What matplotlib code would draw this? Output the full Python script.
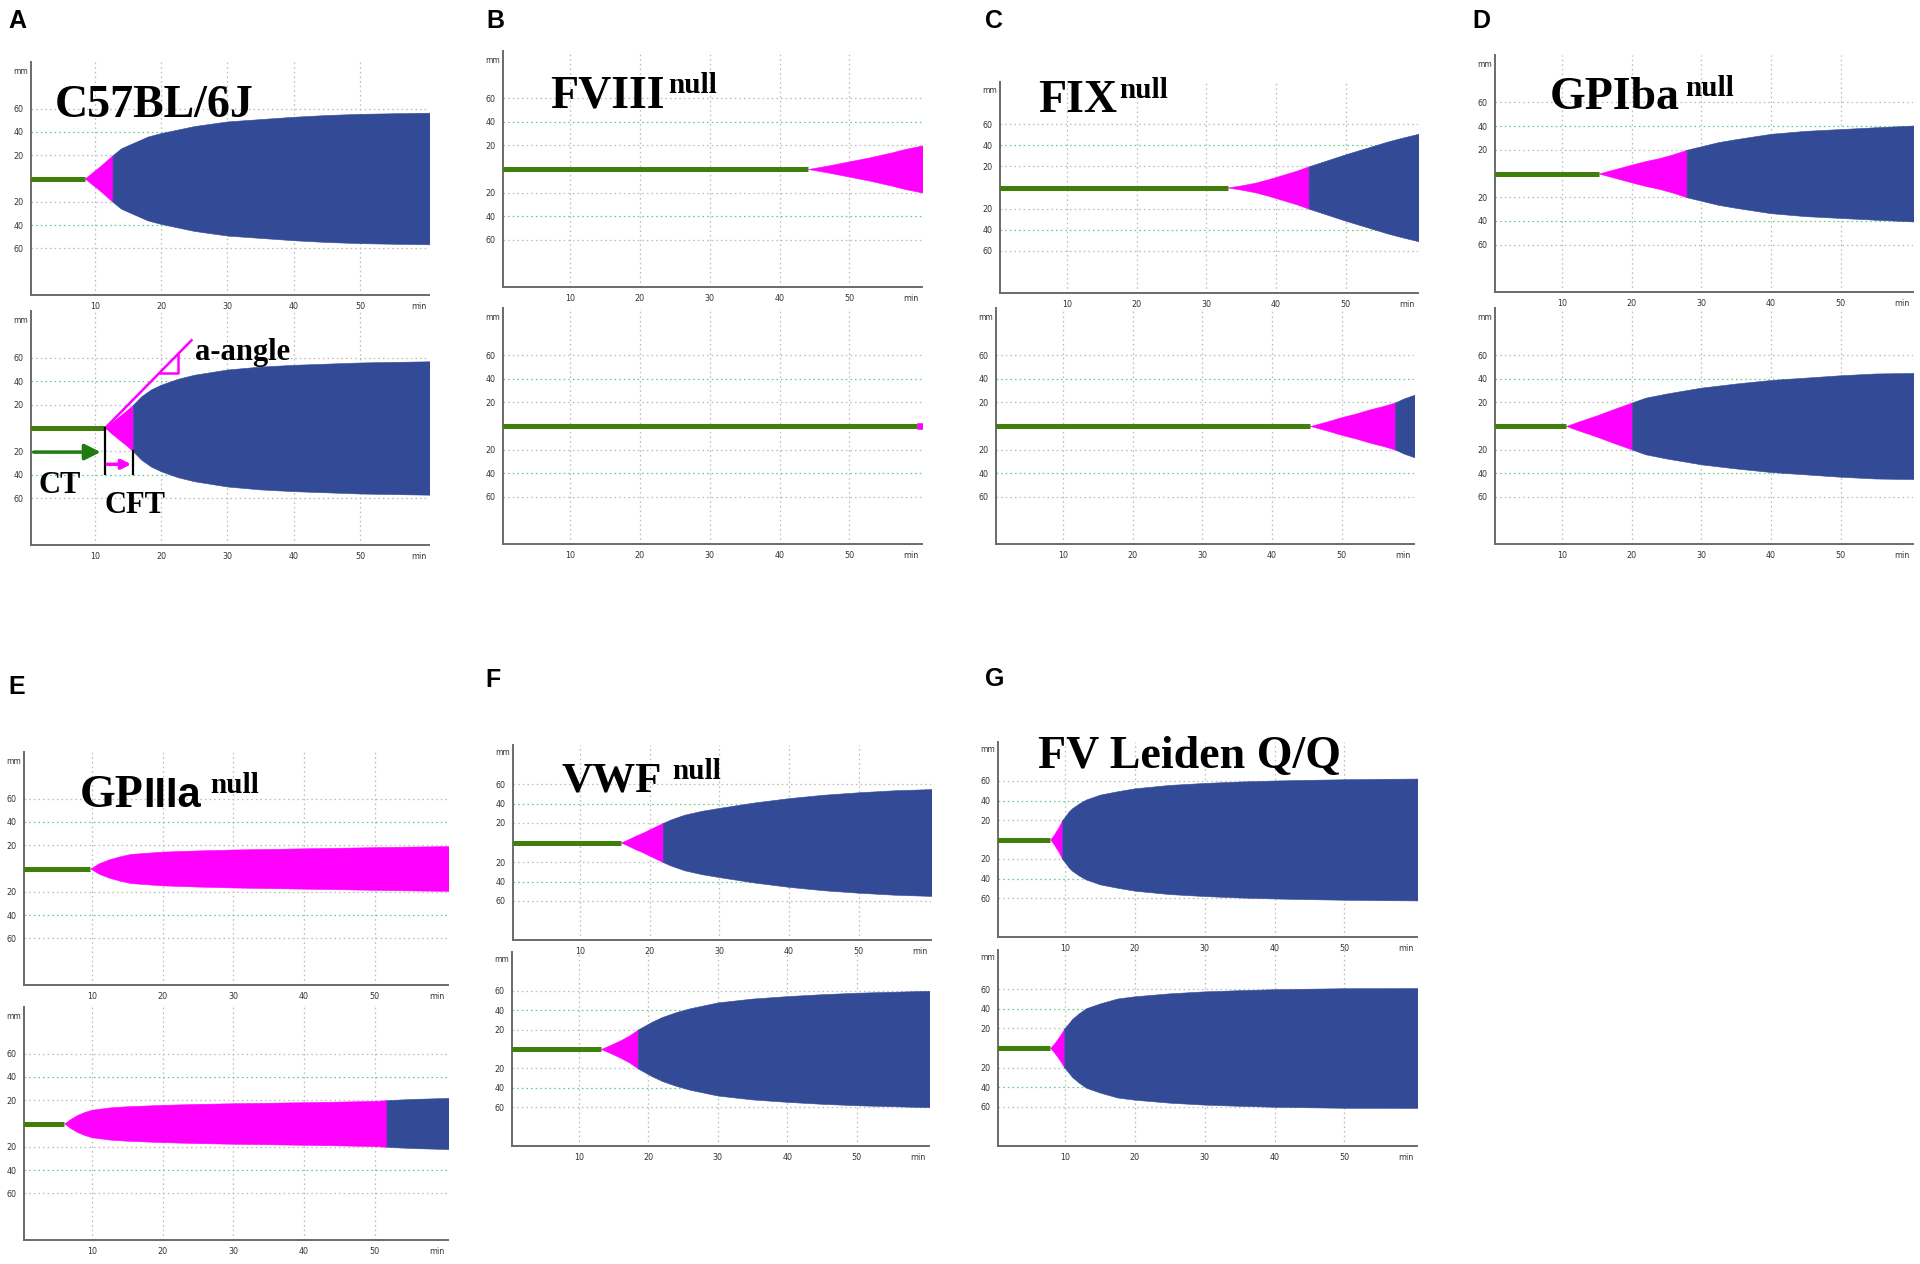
import numpy as np
import matplotlib
matplotlib.use('Agg')
import matplotlib.pyplot as plt

W, H = 1920, 1264
GREEN = '#3f7f0c'
MAGENTA = '#ff00ff'
BLUE = '#334b97'
GRIDC = '#bdbdbd'
GGRIDC = '#5ccf85'
SERIF = 'Liberation Serif'
SANS = 'Liberation Sans'

# ---------------- data (time in min, amplitude in mm) ----------------
A1_ct = 8.5
A1_mag_t = [8.5, 9.6, 10.7, 11.7, 12.7]
A1_mag_a = [0, 5, 10, 15, 20]
A1_blue_t = [12.7, 14, 16, 18, 20, 25, 30, 35, 40, 45, 50, 55, 60.5]
A1_blue_a = [20, 26, 31, 36, 39, 45, 49, 51, 53, 54.5, 55.5, 56, 56.5]

A2_ct = 11.6
A2_mag_t = [11.6, 12.6, 13.7, 14.8, 15.8]
A2_mag_a = [0, 5, 10, 15, 20]
A2_blue_t = [15.8, 17, 18.5, 20, 22.5, 25, 30, 35, 40, 45, 50, 55, 60.5]
A2_blue_a = [20, 27, 33, 37, 42, 45.5, 50, 52.5, 54, 55, 56, 56.5, 57]

B1_ct = 44.1
B1_mag_t = [44.1, 47, 50, 53, 56, 58, 60.5]
B1_mag_a = [0, 3, 6.5, 10, 14, 17, 20]
B1_blue_t = []
B1_blue_a = []

B2_ct = 59.7
B2_mag_t = [59.7, 60.5]
B2_mag_a = [2.5, 2.5]
B2_blue_t = []
B2_blue_a = []

C1_ct = 33.1
C1_mag_t = [33.1, 35, 37, 39, 41, 43, 44.7]
C1_mag_a = [0, 2, 4.5, 8, 12, 16, 20]
C1_blue_t = [44.7, 47, 50, 53, 56, 58, 60.5]
C1_blue_a = [20, 25, 31.5, 37.5, 43.5, 47, 51]

C2_ct = 45.5
C2_mag_t = [45.5, 48, 50, 52, 54, 56, 57.7]
C2_mag_a = [0, 4, 7.5, 10.5, 14, 17, 20]
C2_blue_t = [57.7, 59, 60.7]
C2_blue_a = [20, 23.5, 27]

D1_ct = 15.3
D1_mag_t = [15.3, 18, 20, 22, 24, 26, 27.9]
D1_mag_a = [0, 4.3, 7.5, 10.5, 13, 16.3, 20]
D1_blue_t = [27.9, 30, 32.5, 35, 40, 45, 50, 55, 60.5]
D1_blue_a = [20, 23, 26.5, 29, 33.5, 36, 37.5, 39, 40.5]

D2_ct = 10.6
D2_mag_t = [10.6, 12.5, 15, 17.5, 20.1]
D2_mag_a = [0, 4, 9, 14.5, 20]
D2_blue_t = [20.1, 22, 25, 30, 35, 40, 45, 50, 55, 60.5]
D2_blue_a = [20, 24, 27.5, 32.5, 36, 39, 41, 43, 44.5, 45]

E1_ct = 9.8
E1_mag_t = [9.8, 11, 12.5, 14, 15.5, 20, 25, 30, 35, 40, 45, 50, 55, 60.5]
E1_mag_a = [0, 4.5, 8, 10.5, 12.5, 14.5, 15.5, 16.3, 16.8, 17.3, 17.8, 18.3, 18.8, 19.2]
E1_blue_t = []
E1_blue_a = []

E2_ct = 6.1
E2_mag_t = [6.1, 7, 8, 9, 10, 12.5, 15, 20, 25, 30, 35, 40, 45, 50, 51.7]
E2_mag_a = [0, 4, 7.5, 10, 11.8, 13.8, 14.8, 16, 16.8, 17.4, 17.8, 18.3, 18.8, 19.4, 20]
E2_blue_t = [51.7, 54, 56, 59, 60.5]
E2_blue_a = [20, 20.7, 21.2, 21.7, 22]

F1_ct = 15.9
F1_mag_t = [15.9, 17, 18, 19, 20, 21, 21.9]
F1_mag_a = [0, 3.5, 7, 10, 13.5, 17, 20]
F1_blue_t = [21.9, 23, 25, 27.5, 30, 35, 40, 45, 50, 55, 60.5]
F1_blue_a = [20, 23.5, 28.5, 32.5, 35.5, 41, 45.5, 49, 51.5, 53.5, 54.8]

F2_ct = 13.2
F2_mag_t = [13.2, 14.5, 16, 17.3, 18.5]
F2_mag_a = [0, 4, 9, 14, 20]
F2_blue_t = [18.5, 19.5, 20.5, 22, 24, 26, 30, 35, 40, 45, 50, 55, 60.5]
F2_blue_a = [20, 24, 28, 33, 38, 42, 48, 52, 54.5, 56.5, 58, 59, 60]

G1_ct = 7.9
G1_mag_t = [7.9, 8.5, 9.1, 9.6]
G1_mag_a = [0, 6, 13, 20]
G1_blue_t = [9.6, 10, 10.5, 11, 12, 13, 15, 17.5, 20, 25, 30, 35, 40, 45, 50, 55, 60.6]
G1_blue_a = [20, 23.5, 28.5, 32, 37, 41, 46, 49.5, 52.5, 56, 58, 59.5, 60.5, 61.2, 61.8, 62.2, 62.5]

G2_ct = 7.9
G2_mag_t = [7.9, 8.6, 9.3, 9.9]
G2_mag_a = [0, 6, 13, 20]
G2_blue_t = [9.9, 10.5, 11, 12, 13, 15, 17.5, 20, 25, 30, 35, 40, 45, 50, 55, 60.6]
G2_blue_a = [20, 25, 29.5, 35.5, 40.5, 45.5, 50.5, 52.8, 55.8, 57.8, 59, 60, 60.5, 61, 61, 61.2]

x_ticks = [10, 20, 30, 40, 50, 58.8]
x_tick_labels = ['10', '20', '30', '40', '50', 'min']
y_ticks = [60, 40, 20, -20, -40, -60]
y_tick_labels = ['60', '40', '20', '20', '40', '60']

# ---------------- layout (pixel boxes: x0, y0, x1, y1) ----------------
boxes = {
    'A1': (31, 62, 429, 295), 'A2': (31, 311, 429, 545),
    'B1': (503, 51, 922, 287), 'B2': (503, 308, 922, 544),
    'C1': (1000, 82, 1418, 293), 'C2': (996, 308, 1414, 544),
    'D1': (1495, 55, 1913, 292), 'D2': (1495, 308, 1913, 544),
    'E1': (24, 752, 448, 985), 'E2': (24, 1007, 448, 1240),
    'F1': (513, 745, 931, 940), 'F2': (512, 952, 929, 1146),
    'G1': (998, 742, 1417, 937), 'G2': (998, 950, 1417, 1146),
}
series = {
    'A1': (A1_ct, A1_mag_t, A1_mag_a, A1_blue_t, A1_blue_a),
    'A2': (A2_ct, A2_mag_t, A2_mag_a, A2_blue_t, A2_blue_a),
    'B1': (B1_ct, B1_mag_t, B1_mag_a, B1_blue_t, B1_blue_a),
    'B2': (B2_ct, B2_mag_t, B2_mag_a, B2_blue_t, B2_blue_a),
    'C1': (C1_ct, C1_mag_t, C1_mag_a, C1_blue_t, C1_blue_a),
    'C2': (C2_ct, C2_mag_t, C2_mag_a, C2_blue_t, C2_blue_a),
    'D1': (D1_ct, D1_mag_t, D1_mag_a, D1_blue_t, D1_blue_a),
    'D2': (D2_ct, D2_mag_t, D2_mag_a, D2_blue_t, D2_blue_a),
    'E1': (E1_ct, E1_mag_t, E1_mag_a, E1_blue_t, E1_blue_a),
    'E2': (E2_ct, E2_mag_t, E2_mag_a, E2_blue_t, E2_blue_a),
    'F1': (F1_ct, F1_mag_t, F1_mag_a, F1_blue_t, F1_blue_a),
    'F2': (F2_ct, F2_mag_t, F2_mag_a, F2_blue_t, F2_blue_a),
    'G1': (G1_ct, G1_mag_t, G1_mag_a, G1_blue_t, G1_blue_a),
    'G2': (G2_ct, G2_mag_t, G2_mag_a, G2_blue_t, G2_blue_a),
}

fig = plt.figure(figsize=(W / 100, H / 100), dpi=100)
fig.patch.set_facecolor('white')


def add_axes(box):
    x0, y0, x1, y1 = box
    return fig.add_axes([x0 / W, 1 - y1 / H, (x1 - x0) / W, (y1 - y0) / H])


axes = {}
for key, box in boxes.items():
    ax = add_axes(box)
    ax.set_facecolor('none')
    axes[key] = ax
    ct, mt, ma, bt, ba = series[key]
    ax.set_xlim(0.4, 60.4)
    ax.set_ylim(-100, 100)
    dots = (0, (1.3, 2.4))
    for xv in [10, 20, 30, 40, 50]:
        ax.axvline(xv, color=GRIDC, lw=0.9, ls=dots, zorder=0)
    for yv in [20, -20, 60, -60]:
        ax.axhline(yv, color=GRIDC, lw=0.9, ls=dots, zorder=0)
    for yv in [40, -40]:
        ax.axhline(yv, color=GGRIDC, lw=0.9, ls=dots, zorder=0)
    ax.plot([0, ct], [0, 0], color=GREEN, lw=3.6, solid_capstyle='butt', zorder=3)
    if len(mt):
        ax.fill_between(mt, -np.array(ma), np.array(ma), color=MAGENTA,
                        lw=0.4, edgecolor=MAGENTA, zorder=2)
    if len(bt):
        ax.fill_between(bt, -np.array(ba), np.array(ba), color=BLUE,
                        lw=0.4, edgecolor=BLUE, zorder=2)
    for s in ['top', 'right']:
        ax.spines[s].set_visible(False)
    for s in ['left', 'bottom']:
        ax.spines[s].set_color('#6a6a6a')
        ax.spines[s].set_linewidth(1.4)
    ax.set_xticks(x_ticks)
    ax.set_xticklabels(x_tick_labels)
    ax.set_yticks(y_ticks)
    ax.set_yticklabels(y_tick_labels)
    ax.tick_params(axis='both', length=0, labelsize=5.8, colors='#333333')
    ax.tick_params(axis='x', pad=5)
    ax.tick_params(axis='y', pad=5.5)
    ax.annotate('mm', xy=(0, 92), xycoords=('axes fraction', 'data'),
                xytext=(-2.5, 0), textcoords='offset points',
                ha='right', va='center', fontsize=5.5, color='#333333')


def ftext(x, y, s, **kw):
    return fig.text(x / W, 1 - y / H, s, **kw)


# panel letters
for letter, (x, y) in {'A': (8, 28), 'B': (486, 28), 'C': (985, 28), 'D': (1472, 28),
                       'E': (8, 694), 'F': (485, 687), 'G': (985, 686)}.items():
    ftext(x, y, letter, family=SANS, weight='bold', fontsize=18, va='baseline', ha='left')

# strain titles
TS = 33
ftext(55, 117, 'C57BL/6J', family=SERIF, weight='bold', fontsize=TS, va='baseline')
ftext(550, 107, 'FVIII', family=SERIF, weight='bold', fontsize=TS, va='baseline')
ftext(668, 93, 'null', family=SERIF, weight='bold', fontsize=21, va='baseline')
ftext(1038, 112, 'FIX', family=SERIF, weight='bold', fontsize=TS, va='baseline')
ftext(1119, 98, 'null', family=SERIF, weight='bold', fontsize=21, va='baseline')
ftext(1550, 109, 'GPIba', family=SERIF, weight='bold', fontsize=TS, va='baseline')
ftext(1685, 96, 'null', family=SERIF, weight='bold', fontsize=21, va='baseline')
t_gp = ftext(80, 807, 'GP', family=SERIF, weight='bold', fontsize=TS, va='baseline')
axes['E1'].annotate('IIIa', xy=(1, 0), xycoords=t_gp, xytext=(0, 1),
                    textcoords='offset pixels', ha='left', va='bottom',
                    family=SANS, weight='bold', fontsize=30, annotation_clip=False)
ftext(210, 793, 'null', family=SERIF, weight='bold', fontsize=21, va='baseline')
ftext(561, 792, 'VWF', family=SERIF, weight='bold', fontsize=31, va='baseline')
ftext(672, 779, 'null', family=SERIF, weight='bold', fontsize=21, va='baseline')
ftext(1038, 768, 'FV Leiden Q/Q', family=SERIF, weight='bold', fontsize=TS, va='baseline')

# ---------------- A2 annotations (CT, CFT, alpha angle) ----------------
axA2 = axes['A2']
cft_end = A2_mag_t[-1]
angle_end = (24.6, 75)
slope = angle_end[1] / (angle_end[0] - A2_ct)
tri_x0, tri_x1, tri_y = 19.9, 22.6, 47
axA2.plot([A2_ct, angle_end[0]], [0, angle_end[1]], color=MAGENTA, lw=1.8, zorder=4)
axA2.plot([tri_x0, tri_x1, tri_x1], [tri_y, tri_y, slope * (tri_x1 - A2_ct)],
          color=MAGENTA, lw=1.8, zorder=4)
axA2.plot([A2_ct, A2_ct], [0, -39.5], color='black', lw=1.6, zorder=4)
axA2.plot([cft_end, cft_end], [-20, -39.5], color='black', lw=1.6, zorder=4)
axA2.annotate('', xy=(A2_ct - 0.7, -20.6), xytext=(0.8, -20.6),
              arrowprops=dict(arrowstyle='-|>', color='#1f7a12', lw=2.5,
                              mutation_scale=24, shrinkA=0, shrinkB=0), zorder=5)
axA2.annotate('', xy=(cft_end - 0.3, -31), xytext=(A2_ct + 0.3, -31),
              arrowprops=dict(arrowstyle='-|>', color=MAGENTA, lw=2.5,
                              mutation_scale=14, shrinkA=0, shrinkB=0), zorder=5)
ftext(195, 360, 'a-angle', family=SERIF, weight='bold', fontsize=22, va='baseline')
ftext(39, 493, 'CT', family=SERIF, weight='bold', fontsize=22, va='baseline')
ftext(104, 513, 'CFT', family=SERIF, weight='bold', fontsize=22, va='baseline')

fig.savefig('out.png', dpi=100, facecolor='white')
